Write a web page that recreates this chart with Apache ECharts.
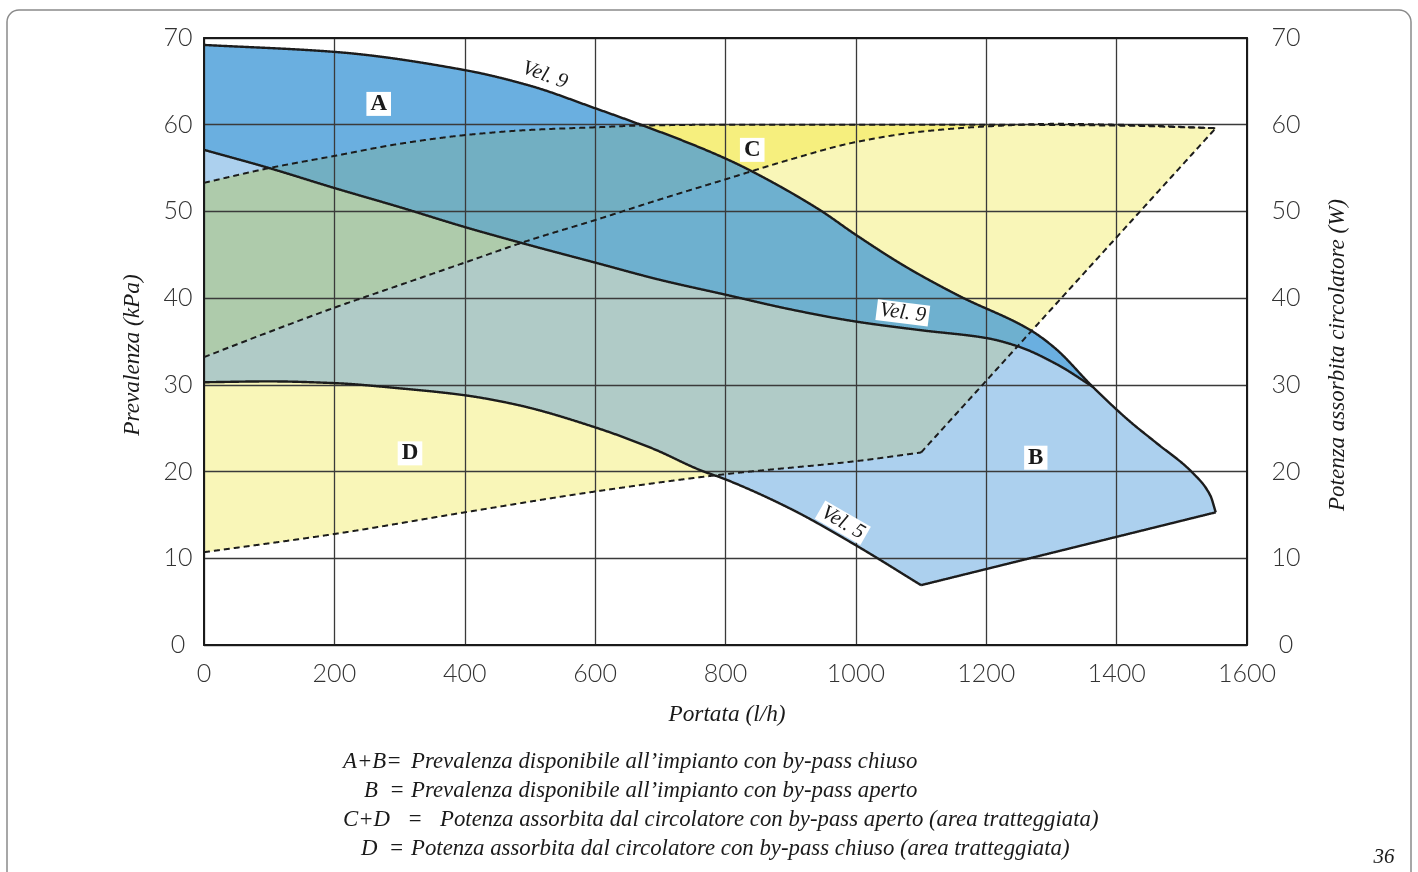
<!DOCTYPE html>
<html><head><meta charset="utf-8">
<script src="https://cdn.jsdelivr.net/npm/echarts@6/dist/echarts.min.js"></script>
<style>html,body{margin:0;padding:0;background:#fff}#c{width:1418px;height:872px}</style>
</head><body><div id="c"></div>
<script>
// ---------------- DATA ----------------
// flow rate (l/h) vs head (kPa) / power (W)
const vel9Upper = [[0,69.2],[200,68.4],[400,66.3],[500,64.5],[600,61.9],[670,60.0],[750,57.7],[800,56.1],[836,54.8],[944,50.2],[1000,47.3],[1077,43.6],[1160,40.2],[1268,36.3],[1306,34.2],[1363,29.8],[1420,25.8],[1461,23.3],[1516,19.9],[1544,17.2],[1552,15.3]];
const vel9Lower = [[0,57.1],[100,55.0],[200,52.7],[300,50.5],[400,48.2],[500,46.1],[600,44.1],[700,42.1],[800,40.4],[900,38.7],[1000,37.3],[1100,36.3],[1200,35.4],[1250,34.4],[1310,32.3],[1363,29.8]];
const vel5 = [[0,30.3],[100,30.4],[200,30.2],[300,29.6],[400,28.8],[480,27.7],[600,25.1],[690,22.6],[760,20.2],[800,19.1],[900,15.7],[1000,11.5],[1100,6.9]];
const bottomLine = [[1100,6.9],[1552,15.3]];
const powerA = [[0,53.3],[100,55.0],[200,56.4],[300,57.8],[400,58.8],[500,59.4],[600,59.7],[670,59.9],[800,60.0],[1000,60.0],[1200,60.0],[1400,59.9],[1552,59.6]];
const powerB = [[0,33.2],[100,36.1],[200,38.9],[300,41.5],[400,44.1],[500,46.7],[600,49.0],[700,51.4],[800,53.7],[900,56.0],[1000,58.0],[1100,59.2],[1200,59.8],[1306,60.1],[1400,60.0],[1552,59.6]];
const powerD = [[0,10.7],[200,12.8],[400,15.3],[600,17.7],[800,19.7],[1000,21.2],[1100,22.2]];
const powerC = [[1100,22.2],[1552,59.6]];

const areaLabels = ['A','B','C','D'];
const areaLabelQ = [268,1276,841,316];
const areaLabelV = [62.4,21.6,57.1,22.1];

const curveLabels = ['Vel. 9','Vel. 9','Vel. 5'];
const curveLabelQ = [523,1072,980];
const curveLabelV = [65.7,38.3,14.1];
const curveLabelRot = [-20,-7,-30];
const curveLabelBox = [false,true,true];

const legendLeft = ['A+B=','B  =','C+D   =','D  ='];
const legendRight = [
 'Prevalenza disponibile all\u2019impianto con by-pass chiuso',
 'Prevalenza disponibile all\u2019impianto con by-pass aperto',
 'Potenza assorbita dal circolatore con by-pass aperto (area tratteggiata)',
 'Potenza assorbita dal circolatore con by-pass chiuso (area tratteggiata)'];

// ---------------- helpers ----------------
function mono(pts){
  const n=pts.length, xs=pts.map(p=>p[0]), ys=pts.map(p=>p[1]);
  if(n===2) return q=>ys[0]+(ys[1]-ys[0])*(q-xs[0])/(xs[1]-xs[0]);
  const h=[],d=[],m=new Array(n);
  for(let i=0;i<n-1;i++){h[i]=xs[i+1]-xs[i];d[i]=(ys[i+1]-ys[i])/h[i];}
  m[0]=d[0]; m[n-1]=d[n-2];
  for(let i=1;i<n-1;i++){
    if(d[i-1]*d[i]<=0){m[i]=0;}
    else{const w1=2*h[i]+h[i-1],w2=h[i]+2*h[i-1];m[i]=(w1+w2)/(w1/d[i-1]+w2/d[i]);}
  }
  return q=>{
    if(q<=xs[0]) return ys[0];
    if(q>=xs[n-1]) return ys[n-1];
    let i=0; while(i<n-2 && q>xs[i+1]) i++;
    const hh=h[i], t=(q-xs[i])/hh, t2=t*t, t3=t2*t;
    return (2*t3-3*t2+1)*ys[i]+(t3-2*t2+t)*hh*m[i]+(-2*t3+3*t2)*ys[i+1]+(t3-t2)*hh*m[i+1];
  };
}
const f9u=mono(vel9Upper), f9l=mono(vel9Lower), f5=mono(vel5), fBot=mono(bottomLine);
const fa=mono(powerA), fb=mono(powerB), fd=mono(powerD), fc=mono(powerC);
const qEnd9l=vel9Lower[vel9Lower.length-1][0];
const qEnd5=vel5[vel5.length-1][0];
const qEndD=powerD[powerD.length-1][0];
const qEnd=vel9Upper[vel9Upper.length-1][0];
const qEndP=powerA[powerA.length-1][0];

const R = {
  A:{q0:0,q1:qEnd9l,lo:f9l,up:f9u},
  B:{q0:0,q1:qEnd,lo:q=>q<=qEnd5?f5(q):fBot(q),up:q=>q<=qEnd9l?f9l(q):f9u(q)},
  C:{q0:0,q1:qEndP,lo:fb,up:fa},
  D:{q0:0,q1:qEndP,lo:q=>q<=qEndD?fd(q):fc(q),up:fb}
};
function intersect(regs){
  const q0=Math.max(...regs.map(r=>r.q0)), q1=Math.min(...regs.map(r=>r.q1));
  const polys=[]; let cur=null;
  for(let q=q0;q<=q1+1e-9;q+=1){
    const qq=Math.min(q,q1);
    const lo=Math.max(...regs.map(r=>r.lo(qq))), up=Math.min(...regs.map(r=>r.up(qq)));
    if(up>lo+1e-4){ if(!cur){cur=[];polys.push(cur);} cur.push([qq,lo,up]); }
    else { if(cur){cur.push([qq,(lo+up)/2,(lo+up)/2]);} cur=null; }
  }
  return polys.map(s=>s.map(p=>[p[0],p[2]]).concat(s.slice().reverse().map(p=>[p[0],p[1]])));
}
const fillLayers = [
  {regs:[R.D],color:'#f9f6b8'},
  {regs:[R.C],color:'#f6ef7e'},
  {regs:[R.A],color:'#6aafe0'},
  {regs:[R.B],color:'#acd0ee'},
  {regs:[R.A,R.C],color:'#72afc2'},
  {regs:[R.A,R.D],color:'#6eb0cf'},
  {regs:[R.B,R.C],color:'#aecbab'},
  {regs:[R.B,R.D],color:'#b0cbc7'}
];
fillLayers.forEach(l=>l.polys=intersect(l.regs));

const strokeLayers = [
  {f:f9u,q0:0,q1:qEnd,dash:null},
  {f:f9l,q0:0,q1:qEnd9l,dash:null},
  {f:f5,q0:0,q1:qEnd5,dash:null},
  {f:fBot,q0:bottomLine[0][0],q1:bottomLine[1][0],dash:null},
  {f:fa,q0:0,q1:qEndP,dash:[6,4]},
  {f:fb,q0:0,q1:qEndP,dash:[6,4]},
  {f:fd,q0:0,q1:qEndD,dash:[6,4]},
  {f:fc,q0:powerC[0][0],q1:powerC[1][0],dash:[6,4]}
];

const serif='"Liberation Serif","DejaVu Serif",serif';
const chart=echarts.init(document.getElementById('c'),null,{renderer:'canvas'});
const tickFont={fontFamily:'Lato',fontWeight:300,fontSize:25,color:'#333',formatter:v=>String(v)};
chart.setOption({
  backgroundColor:'#fff',
  animation:false,
  grid:{left:204,top:38,right:171,bottom:227,outerBoundsMode:'none',containLabel:false},
  xAxis:[{type:'value',min:0,max:1600,interval:200,position:'bottom',z:3,
    axisLine:{show:true,onZero:false,lineStyle:{color:'#1a1a1a',width:2}},
    axisTick:{show:false},
    axisLabel:Object.assign({margin:16},tickFont),
    splitLine:{show:true,lineStyle:{color:'#3a3a3a',width:1.3}}},
   {type:'value',min:0,max:1600,interval:200,position:'top',z:3,
    axisLine:{show:true,onZero:false,lineStyle:{color:'#1a1a1a',width:2}},
    axisTick:{show:false},axisLabel:{show:false},splitLine:{show:false}}],
  yAxis:[{type:'value',min:0,max:70,interval:10,position:'left',z:3,
    axisLine:{show:true,onZero:false,lineStyle:{color:'#1a1a1a',width:2}},
    axisTick:{show:false},
    axisLabel:Object.assign({margin:26,align:'center'},tickFont),
    splitLine:{show:true,lineStyle:{color:'#3a3a3a',width:1.3}}},
   {type:'value',min:0,max:70,interval:10,position:'right',z:3,
    axisLine:{show:true,onZero:false,lineStyle:{color:'#1a1a1a',width:2}},
    axisTick:{show:false},
    axisLabel:Object.assign({margin:39,align:'center'},tickFont),
    splitLine:{show:false}}],
  series:[
    {type:'custom',coordinateSystem:'cartesian2d',z:1,silent:true,
     data:fillLayers.map((l,i)=>[i,0]),
     renderItem:(params,api)=>{
       const l=fillLayers[params.dataIndex];
       return {type:'group',children:l.polys.map(p=>({type:'polygon',
         shape:{points:p.map(pt=>api.coord(pt))},
         style:{fill:l.color,stroke:l.color,lineWidth:0.6}}))};
     }},
    {type:'custom',coordinateSystem:'cartesian2d',z:5,silent:true,
     data:strokeLayers.map((l,i)=>[i,0]),
     renderItem:(params,api)=>{
       const l=strokeLayers[params.dataIndex];
       const pts=[];
       for(let q=l.q0;q<=l.q1+1e-9;q+=1){const qq=Math.min(q,l.q1);pts.push(api.coord([qq,l.f(qq)]));}
       pts.push(api.coord([l.q1,l.f(l.q1)]));
       return {type:'polyline',shape:{points:pts},
         style:{fill:null,stroke:'#1c1c1c',lineWidth:l.dash?2:2.4,lineDash:l.dash||null,lineJoin:'round'}};
     }},
    {type:'custom',coordinateSystem:'cartesian2d',z:6,silent:true,
     data:areaLabels.map((t,i)=>[areaLabelQ[i],areaLabelV[i]]),
     renderItem:(params,api)=>{
       const i=params.dataIndex; const p=api.coord([areaLabelQ[i],areaLabelV[i]]);
       return {type:'text',x:p[0],y:p[1],style:{text:areaLabels[i],
         font:'bold 23px '+serif,fill:'#1a1a1a',align:'center',verticalAlign:'middle',
         backgroundColor:'#fff',padding:[1,4,0,4]}};
     }},
    {type:'custom',coordinateSystem:'cartesian2d',z:6,silent:true,
     data:curveLabels.map((t,i)=>[curveLabelQ[i],curveLabelV[i]]),
     renderItem:(params,api)=>{
       const i=params.dataIndex; const p=api.coord([curveLabelQ[i],curveLabelV[i]]);
       return {type:'text',x:p[0],y:p[1],rotation:curveLabelRot[i]*Math.PI/180,
         style:{text:curveLabels[i],font:'italic 21px '+serif,fill:'#1a1a1a',
         align:'center',verticalAlign:'middle',
         backgroundColor:curveLabelBox[i]?'#fff':null,padding:[0,3,0,3]}};
     }}
  ],
  graphic:[
    {type:'rect',z:-10,shape:{x:7,y:10,width:1404,height:920,r:12},style:{fill:null,stroke:'#8a8a8a',lineWidth:1.5}},
    {type:'text',x:727,y:715,style:{text:'Portata (l/h)',font:'italic 23.3px '+serif,fill:'#1a1a1a',align:'center',verticalAlign:'middle',textAlign:'center',textVerticalAlign:'middle'}},
    {type:'text',x:133,y:355,rotation:Math.PI/2,style:{text:'Prevalenza (kPa)',font:'italic 23.3px '+serif,fill:'#1a1a1a',align:'center',verticalAlign:'middle',textAlign:'center',textVerticalAlign:'middle'}},
    {type:'text',x:1338,y:355,rotation:Math.PI/2,style:{text:'Potenza assorbita circolatore (W)',font:'italic 23px '+serif,fill:'#1a1a1a',align:'center',verticalAlign:'middle',textAlign:'center',textVerticalAlign:'middle'}},
    {type:'text',x:1384,y:857,style:{text:'36',font:'italic 21px '+serif,fill:'#1a1a1a',align:'center',verticalAlign:'middle',textAlign:'center',textVerticalAlign:'middle'}}
  ].concat(legendLeft.map((t,i)=>({type:'text',x:[343,364,343,361][i],y:762+29*i,
      style:{text:t,font:'italic 22.8px '+serif,fill:'#1a1a1a',align:'left',verticalAlign:'middle',textAlign:'left',textVerticalAlign:'middle'}})))
   .concat(legendRight.map((t,i)=>({type:'text',x:[411,411,440,411][i],y:762+29*i,
      style:{text:t,font:'italic 22.8px '+serif,fill:'#1a1a1a',align:'left',verticalAlign:'middle',textAlign:'left',textVerticalAlign:'middle'}})))
});
</script></body></html>
